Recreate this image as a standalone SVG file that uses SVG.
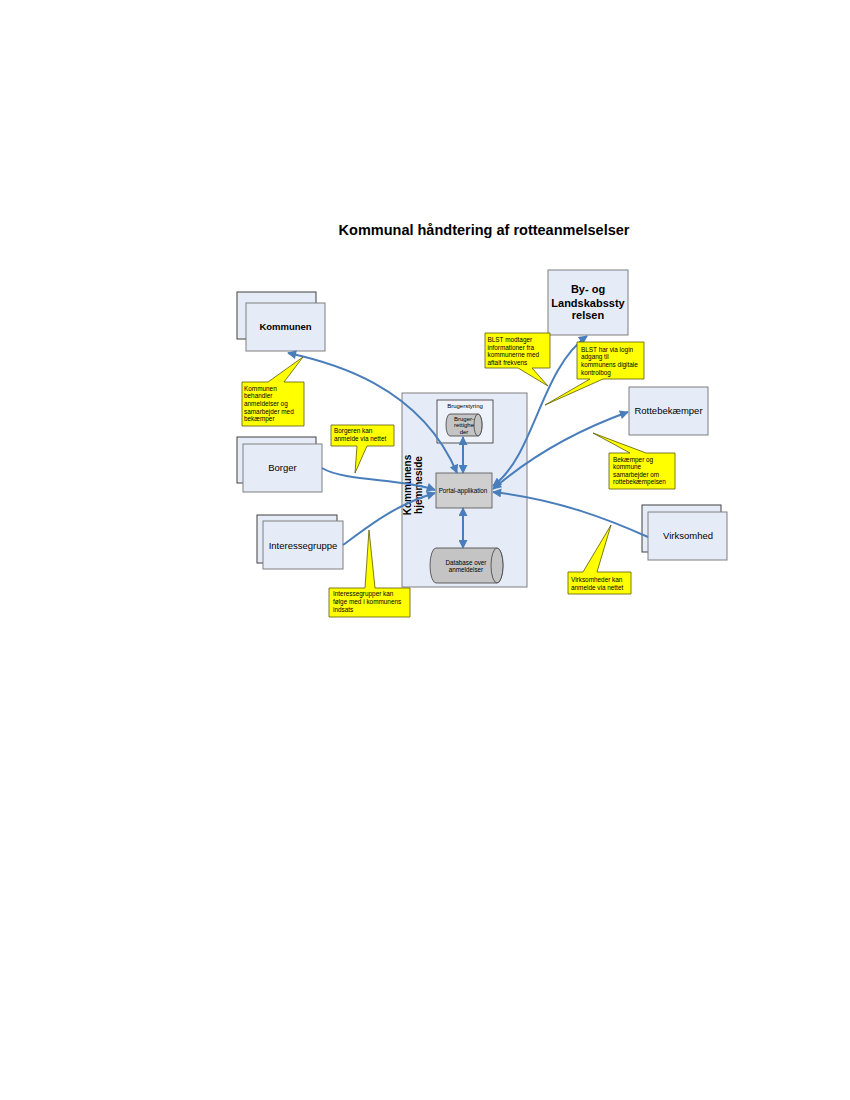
<svg xmlns="http://www.w3.org/2000/svg" width="850" height="1100" viewBox="0 0 850 1100">
<style>
.box{fill:#e6ecf7;stroke:#7f7f7f;stroke-width:1}
.back{fill:#e6ecf7;stroke:#404040;stroke-width:1}
.call{fill:#ffff00;stroke:#5a5a00;stroke-width:0.8}
.cyl{fill:#c4c4c4;stroke:#404040;stroke-width:0.8}
.t{font-family:"Liberation Sans",Arial,sans-serif;fill:#000}
.ct{font-family:"Liberation Sans",Arial,sans-serif;font-size:6.4px;fill:#000}
.bt{font-family:"Liberation Sans",Arial,sans-serif;font-size:9.5px;fill:#000;text-anchor:middle}
.conn{fill:none;stroke:#4a7ebb;stroke-width:2}
</style>
<defs>
<marker id="ah" viewBox="0 0 10 10" refX="9" refY="5" markerWidth="10" markerHeight="9" markerUnits="userSpaceOnUse" orient="auto-start-reverse">
<path d="M0,0 L10,5 L0,10 z" fill="#4a7ebb"/>
</marker>
</defs>
<rect width="850" height="1100" fill="#fff"/>
<text class="t" x="484" y="235" font-size="14.5" font-weight="bold" text-anchor="middle">Kommunal håndtering af rotteanmelselser</text>

<g id="hjemmeside">
<rect class="box" x="402" y="393" width="125" height="194"/>
<text class="t" font-size="10" font-weight="bold" text-anchor="middle" transform="translate(411,485) rotate(-90)">Kommunens</text>
<text class="t" font-size="10" font-weight="bold" text-anchor="middle" transform="translate(422,485) rotate(-90)">hjemmeside</text>
</g>

<g id="brugerstyring">
<rect x="437" y="400" width="56" height="43" fill="#eef2fa" stroke="#303030" stroke-width="0.8"/>
<text class="t" x="465" y="407.5" font-size="6" text-anchor="middle">Brugerstyring</text>
<path class="cyl" d="M450,414 H478 A4,11 0 0 1 478,436 H450 A4,11 0 0 1 450,414 Z"/>
<ellipse class="cyl" cx="478" cy="425" rx="4" ry="11"/>
<text class="t" x="464" y="420.5" font-size="6" text-anchor="middle">Bruger-</text>
<text class="t" x="464" y="427" font-size="6" text-anchor="middle">rettighe</text>
<text class="t" x="464" y="433.5" font-size="6" text-anchor="middle">der</text>
</g>

<g id="portal">
<rect x="436" y="473" width="56" height="35" fill="#cfcfcf" stroke="#505050" stroke-width="0.8"/>
<text class="t" x="463" y="493" font-size="6.3" text-anchor="middle">Portal-applikation</text>
</g>

<g id="database">
<path class="cyl" d="M436,548 H497 A6,17.5 0 0 1 497,583 H436 A6,17.5 0 0 1 436,548 Z"/>
<ellipse class="cyl" cx="497" cy="565.5" rx="6" ry="17.5"/>
<text class="t" x="466" y="564.5" font-size="6.3" text-anchor="middle">Database over</text>
<text class="t" x="466" y="571.5" font-size="6.3" text-anchor="middle">anmeldelser</text>
</g>

<g id="kommunen">
<rect class="back" x="237" y="292" width="79" height="47"/>
<rect class="box" x="246" y="303" width="79" height="48"/>
<text class="t" x="285.5" y="330" font-size="9.5" font-weight="bold" text-anchor="middle">Kommunen</text>
</g>

<g id="blst">
<rect class="box" x="548" y="270" width="80" height="65"/>
<text class="t" x="588" y="293" font-size="11" font-weight="bold" text-anchor="middle">By- og</text>
<text class="t" x="588" y="306.5" font-size="11" font-weight="bold" text-anchor="middle">Landskabssty</text>
<text class="t" x="588" y="319" font-size="11" font-weight="bold" text-anchor="middle">relsen</text>
</g>

<g id="rottebekaemper">
<rect class="box" x="629" y="387" width="79" height="48"/>
<text class="bt" x="668.5" y="414">Rottebekæmper</text>
</g>

<g id="borger">
<rect class="back" x="237" y="437" width="79" height="46"/>
<rect class="box" x="243" y="444" width="79" height="48"/>
<text class="bt" x="282.5" y="471">Borger</text>
</g>

<g id="interessegruppe">
<rect class="back" x="257" y="515" width="80" height="48"/>
<rect class="box" x="263" y="521" width="80" height="48"/>
<text class="bt" x="303" y="548.5">Interessegruppe</text>
</g>

<g id="virksomhed">
<rect class="back" x="642" y="505" width="79" height="47"/>
<rect class="box" x="648" y="512" width="79" height="48"/>
<text class="bt" x="688" y="538.5">Virksomhed</text>
</g>

<g id="connectors">
<path class="conn" d="M288,353 C330,362 420,385 457,473" marker-start="url(#ah)" marker-end="url(#ah)"/>
<path class="conn" d="M493,486 C535,455 540,370 587,336" marker-start="url(#ah)" marker-end="url(#ah)"/>
<path class="conn" d="M493,489 Q550,440 628,412" marker-start="url(#ah)" marker-end="url(#ah)"/>
<path class="conn" d="M648,537 C610,520 560,500 493,492" marker-end="url(#ah)"/>
<path class="conn" d="M322,468 C345,482 400,478 435,490" marker-end="url(#ah)"/>
<path class="conn" d="M343,545 C370,525 395,505 435,493" marker-end="url(#ah)"/>
<path class="conn" d="M463,437 V473" marker-start="url(#ah)" marker-end="url(#ah)"/>
<path class="conn" d="M463,508 V548" marker-start="url(#ah)" marker-end="url(#ah)"/>
</g>

<g id="callout-kommunen">
<path class="call" d="M242,382 H268 L303,357 L284,382 H304 V426 H242 Z"/>
<text class="ct" x="244" y="390.5">Kommunen</text>
<text class="ct" x="244" y="398.2">behandler</text>
<text class="ct" x="244" y="405.9">anmeldelser og</text>
<text class="ct" x="244" y="413.6">samarbejder med</text>
<text class="ct" x="244" y="421.3">bekæmper</text>
</g>

<g id="callout-borger">
<path class="call" d="M331,425 H394 V446 H367 L355,473 L357,446 H331 Z"/>
<text class="ct" x="334" y="433">Borgeren kan</text>
<text class="ct" x="334" y="440.7">anmelde via nettet</text>
</g>

<g id="callout-interesse">
<path class="call" d="M329,588 H365 L369,530 L375,588 H410 V617 H329 Z"/>
<text class="ct" x="333" y="596">Interessegrupper kan</text>
<text class="ct" x="333" y="604">følge med i kommunens</text>
<text class="ct" x="333" y="612">indsats</text>
</g>

<g id="callout-blst1">
<path class="call" d="M485,333 H550 V368 H532 L548,386 L518,368 H485 Z"/>
<text class="ct" x="487.5" y="342">BLST modtager</text>
<text class="ct" x="487.5" y="349.7">informationer fra</text>
<text class="ct" x="487.5" y="357.4">kommunerne med</text>
<text class="ct" x="487.5" y="365">aftalt frekvens</text>
</g>

<g id="callout-blst2">
<path class="call" d="M577,342 H644 V379 H603 L545,405 L590,379 H577 Z"/>
<text class="ct" x="581" y="351.5">BLST har via login</text>
<text class="ct" x="581" y="359.3">adgang til</text>
<text class="ct" x="581" y="367">kommunens digitale</text>
<text class="ct" x="581" y="374.8">kontrolbog</text>
</g>

<g id="callout-rotte">
<path class="call" d="M609,453 H630 L593,433 L646,453 H675 V489 H609 Z"/>
<text class="ct" x="613" y="462">Bekæmper og</text>
<text class="ct" x="613" y="469.4">kommune</text>
<text class="ct" x="613" y="476.8">samarbejder om</text>
<text class="ct" x="613" y="484.2">rottebekæmpelsen</text>
</g>

<g id="callout-virksomhed">
<path class="call" d="M568,572 H583 L611,525 L597,572 H631 V594 H568 Z"/>
<text class="ct" x="571" y="581.5">Virksomheder kan</text>
<text class="ct" x="571" y="589.5">anmelde via nettet</text>
</g>
</svg>
